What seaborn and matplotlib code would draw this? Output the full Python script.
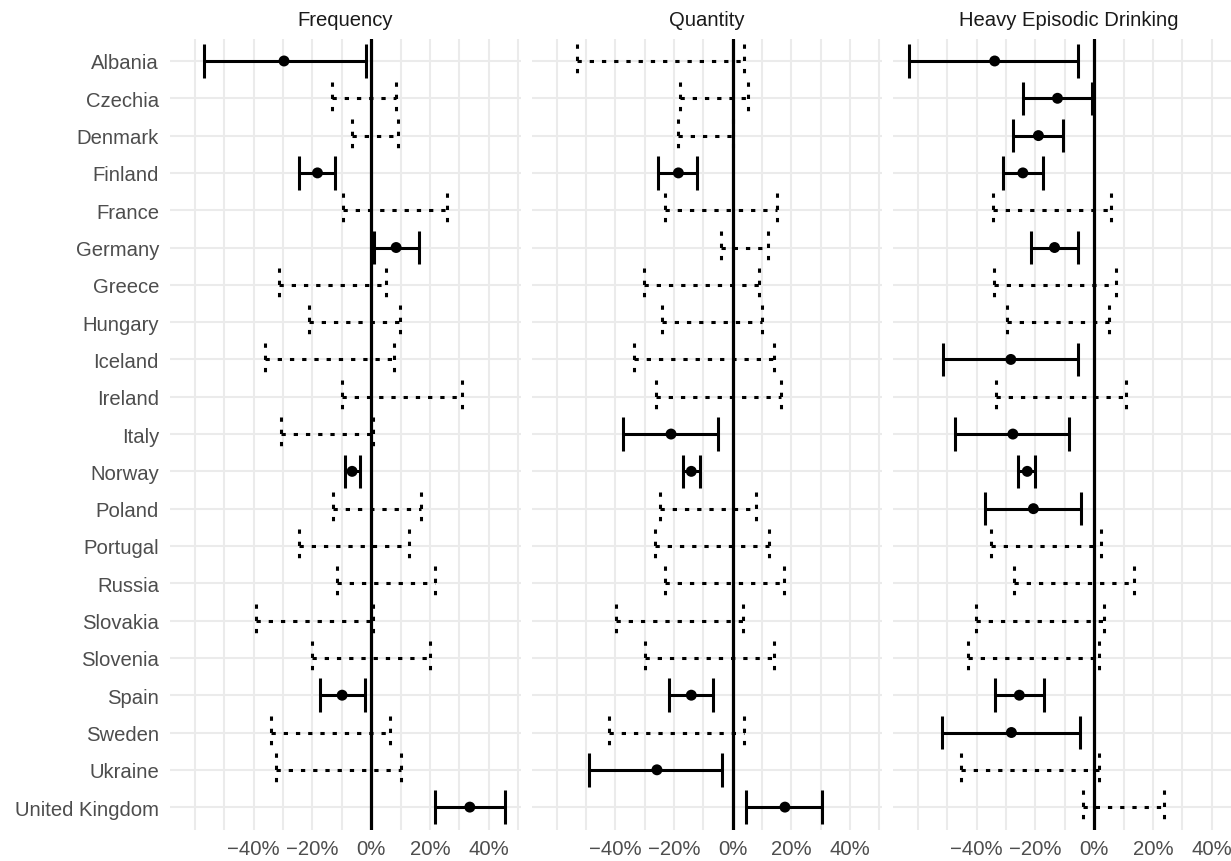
import numpy as np
import pandas as pd
import seaborn as sns
import matplotlib.pyplot as plt

countries = ["Albania", "Czechia", "Denmark", "Finland", "France", "Germany",
             "Greece", "Hungary", "Iceland", "Ireland", "Italy", "Norway",
             "Poland", "Portugal", "Russia", "Slovakia", "Slovenia", "Spain",
             "Sweden", "Ukraine", "United Kingdom"]
panels = ["Frequency", "Quantity", "Heavy Episodic Drinking"]

# estimates only where shown (significant), CI bounds for all
freq_est = [-0.297, None, None, -0.183, None, 0.085, None, None, None, None, None,
            -0.065, None, None, None, None, None, -0.099, None, None, 0.336]
freq_lo = [-0.569, -0.134, -0.066, -0.246, -0.096, 0.008, -0.314, -0.213, -0.362, -0.101, -0.308,
           -0.090, -0.129, -0.247, -0.117, -0.393, -0.201, -0.174, -0.342, -0.324, 0.217]
freq_hi = [-0.018, 0.085, 0.091, -0.122, 0.259, 0.164, 0.051, 0.097, 0.079, 0.309, 0.005,
           -0.039, 0.169, 0.130, 0.219, 0.006, 0.202, -0.021, 0.063, 0.102, 0.456]

qty_est = [None, None, None, -0.185, None, None, None, None, None, None, -0.210,
           -0.141, None, None, None, None, None, -0.141, None, -0.258, 0.178]
qty_lo = [-0.529, -0.179, -0.185, -0.254, -0.231, -0.039, -0.302, -0.241, -0.337, -0.260, -0.375,
          -0.170, -0.247, -0.264, -0.230, -0.399, -0.299, -0.218, -0.421, -0.489, 0.047]
qty_hi = [0.040, 0.051, 0.002, -0.123, 0.152, 0.119, 0.090, 0.101, 0.142, 0.165, -0.051,
          -0.112, 0.081, 0.125, 0.176, 0.035, 0.142, -0.068, 0.039, -0.035, 0.304]

hed_est = [-0.339, -0.125, -0.190, -0.243, None, -0.135, None, None, -0.284, None, -0.277,
           -0.228, -0.207, None, None, None, None, -0.255, -0.282, None, None]
hed_lo = [-0.631, -0.244, -0.278, -0.312, -0.346, -0.216, -0.340, -0.296, -0.515, -0.334, -0.473,
          -0.258, -0.372, -0.352, -0.274, -0.401, -0.431, -0.339, -0.519, -0.454, -0.039]
hed_hi = [-0.055, -0.007, -0.105, -0.176, 0.057, -0.055, 0.074, 0.052, -0.055, 0.108, -0.085,
          -0.200, -0.044, 0.022, 0.135, 0.033, 0.016, -0.172, -0.049, 0.016, 0.237]

sns.set_theme(style="whitegrid")
plt.rcParams["font.family"] = ["Liberation Sans", "DejaVu Sans"]

rows = []
for panel, est, lo, hi in zip(panels, [freq_est, qty_est, hed_est],
                              [freq_lo, qty_lo, hed_lo], [freq_hi, qty_hi, hed_hi]):
    for c, e, l, h in zip(countries, est, lo, hi):
        rows.append(dict(panel=panel, country=c, est=e, lo=l, hi=h))
df = pd.DataFrame(rows)
df["est"] = df["est"].astype(float)
df["sig"] = (df["lo"] > 0) | (df["hi"] < 0)
df["y"] = df["country"].map({c: i for i, c in enumerate(countries)})

W, H = 1231, 862
fig = plt.figure(figsize=(W / 100, H / 100), dpi=100)
lefts = [170, 531.5, 893]
top, bottom, pw = 39.6, 830.5, 351
xmin, xmax = df["lo"].min(), df["hi"].max()
pad = 0.05 * (xmax - xmin)
fs = 14.6
dotted = (0, (1.4, 2.6))

for i, (panel, left) in enumerate(zip(panels, lefts)):
    ax = fig.add_axes([left / W, 1 - bottom / H, pw / W, (bottom - top) / H])
    sub = df[df.panel == panel]
    ax.axvline(0, color="black", lw=2.3, zorder=3)
    for sig, ls in [(True, "solid"), (False, dotted)]:
        s = sub[sub.sig == sig]
        ax.hlines(s.y, s.lo, s.hi, colors="black", linestyles=ls, lw=2.2, zorder=4)
        ends = pd.concat([s.lo, s.hi])
        ys = pd.concat([s.y, s.y])
        ax.vlines(ends, ys - 0.45, ys + 0.45, colors="black", linestyles=ls, lw=2.2, zorder=4)
    sns.scatterplot(data=sub.dropna(subset=["est"]), x="est", y="y", color="black",
                    s=62, edgecolor="none", ax=ax, zorder=5)
    ax.set_xlim(xmin - pad, xmax + pad)
    ax.set_ylim(len(countries) - 0.4, -0.6)
    ax.set_xlabel("")
    ax.set_ylabel("")
    majors = [-0.4, -0.2, 0, 0.2, 0.4]
    ax.set_xticks(majors)
    ax.set_xticklabels([f"{v * 100:.0f}%".replace("-", "\u2212") for v in majors])
    ax.set_xticks([-0.6, -0.5, -0.3, -0.1, 0.1, 0.3, 0.5], minor=True)
    ax.set_yticks(range(len(countries)))
    ax.set_yticklabels(countries if i == 0 else [])
    ax.grid(axis="x", which="both", color="#EBEBEB", lw=1.5)
    ax.grid(axis="y", which="major", color="#EBEBEB", lw=1.5)
    ax.tick_params(length=0, labelsize=fs, labelcolor="#4D4D4D")
    ax.tick_params(axis="x", pad=7)
    ax.tick_params(axis="y", pad=8)
    for sp in ax.spines.values():
        sp.set_visible(False)
    ax.text(0.5, 1 + (top - 21) / (bottom - top), panel, transform=ax.transAxes,
            ha="center", va="center", fontsize=fs, color="#1A1A1A")

fig.savefig("out.png", dpi=100)
